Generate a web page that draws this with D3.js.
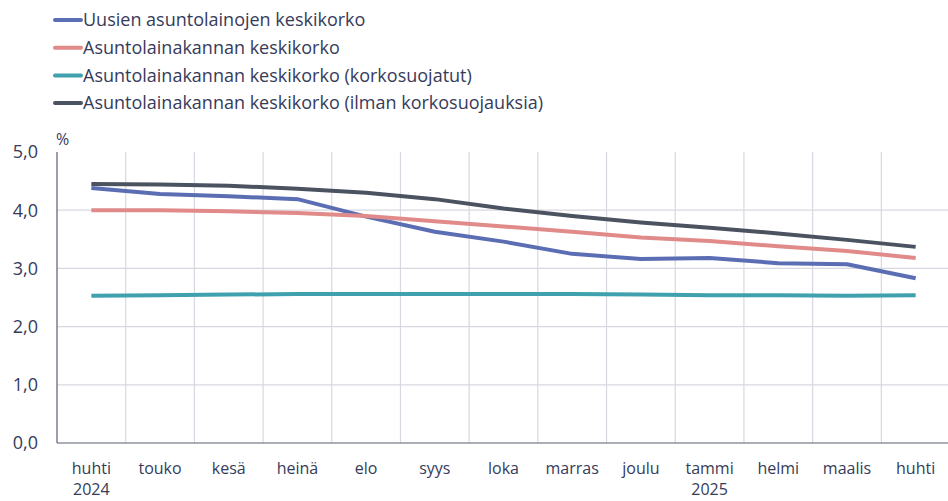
<!DOCTYPE html>
<html>
<head>
<meta charset="utf-8">
<script src="https://cdn.jsdelivr.net/npm/d3@7"></script>
<style>
  body { margin: 0; background: #fff; }
  svg { display: block; font-family: "Open Sans", Lato, sans-serif; }
</style>
</head>
<body>
<svg id="chart" width="948" height="501"></svg>
<script>
// categories (months)
var months = ["huhti", "touko", "kesä", "heinä", "elo", "syys", "loka", "marras", "joulu", "tammi", "helmi", "maalis", "huhti"];
var years = ["2024", "", "", "", "", "", "", "", "", "2025", "", "", ""];
var yTicks = [0, 1, 2, 3, 4, 5];

// series values, %
var uusien = [4.38, 4.28, 4.24, 4.19, 3.89, 3.63, 3.46, 3.25, 3.16, 3.18, 3.09, 3.07, 2.83];
var kanta = [4.00, 4.00, 3.98, 3.95, 3.90, 3.81, 3.72, 3.63, 3.53, 3.47, 3.38, 3.30, 3.18];
var suojatut = [2.53, 2.54, 2.55, 2.56, 2.56, 2.56, 2.56, 2.56, 2.55, 2.54, 2.54, 2.53, 2.54];
var ilman = [4.45, 4.44, 4.42, 4.37, 4.30, 4.19, 4.03, 3.90, 3.79, 3.70, 3.60, 3.49, 3.37];

var seriesNames = [
    "Uusien asuntolainojen keskikorko",
    "Asuntolainakannan keskikorko",
    "Asuntolainakannan keskikorko (korkosuojatut)",
    "Asuntolainakannan keskikorko (ilman korkosuojauksia)"
];
var seriesColors = ["#5b6db3", "#e08a89", "#3fa1ad", "#4b5260"];
var seriesValues = [uusien, kanta, suojatut, ilman];

var textColor = "#363b5a";
var svg = d3.select("#chart");

// plot area edges
var plotLeft = 57, plotRight = 950, plotTop = 152, plotBottom = 443;

var x = d3.scaleBand()
    .domain(d3.range(months.length))
    .range([plotLeft, plotRight]);

var y = d3.scaleLinear()
    .domain([0, 5])
    .range([plotBottom, plotTop]);

// horizontal grid lines
svg.append("g")
    .selectAll("line")
    .data(yTicks.filter(function (d) { return d > 0 && d < 5; }))
    .enter().append("line")
    .attr("x1", plotLeft).attr("x2", plotRight)
    .attr("y1", function (d) { return y(d); })
    .attr("y2", function (d) { return y(d); })
    .attr("stroke", "#d8d8e0")
    .attr("stroke-width", 1.2);

// vertical grid lines between categories
svg.append("g")
    .selectAll("line")
    .data(d3.range(1, months.length))
    .enter().append("line")
    .attr("x1", function (i) { return x(i); })
    .attr("x2", function (i) { return x(i); })
    .attr("y1", plotTop).attr("y2", plotBottom)
    .attr("stroke", "#d8d8e0")
    .attr("stroke-width", 1.2);

// axis lines
svg.append("line")
    .attr("x1", plotLeft).attr("x2", plotLeft)
    .attr("y1", plotTop).attr("y2", plotBottom)
    .attr("stroke", "#5a5f70").attr("stroke-width", 1.2);
svg.append("line")
    .attr("x1", plotLeft).attr("x2", plotRight)
    .attr("y1", plotBottom).attr("y2", plotBottom)
    .attr("stroke", "#5a5f70").attr("stroke-width", 1.2);

// y tick labels
var fmt = function (d) { return d3.format(".1f")(d).replace(".", ","); };
svg.append("g")
    .selectAll("text")
    .data(yTicks)
    .enter().append("text")
    .attr("x", 38)
    .attr("y", function (d) { return y(d); })
    .attr("dy", "0.35em")
    .attr("text-anchor", "end")
    .attr("fill", textColor)
    .style("font-size", "18px")
    .text(fmt);

svg.append("text")
    .attr("x", 56).attr("y", 145)
    .attr("fill", textColor)
    .style("font-size", "16px")
    .text("%");

// x tick labels, month on the first row, year below
var tickRows = [[months, 474], [years, 495]];
tickRows.forEach(function (row) {
    svg.append("g")
        .selectAll("text")
        .data(row[0])
        .enter().append("text")
        .attr("x", function (d, i) { return x(i) + x.bandwidth() / 2; })
        .attr("y", row[1])
        .attr("text-anchor", "middle")
        .attr("fill", textColor)
        .style("font-size", "16px")
        .text(function (d) { return d; });
});

// lines
var line = d3.line()
    .x(function (d, i) { return x(i) + x.bandwidth() / 2; })
    .y(function (d) { return y(d); });

svg.append("g")
    .selectAll("path")
    .data(seriesValues)
    .enter().append("path")
    .attr("d", line)
    .attr("fill", "none")
    .attr("stroke", function (d, i) { return seriesColors[i]; })
    .attr("stroke-width", 4)
    .attr("stroke-linejoin", "round");

// legend
var legend = svg.append("g")
    .selectAll("g")
    .data(seriesNames)
    .enter().append("g")
    .attr("transform", function (d, i) { return "translate(55," + (20 + i * 27.7) + ")"; });

legend.append("line")
    .attr("x1", 0).attr("x2", 26)
    .attr("stroke", function (d, i) { return seriesColors[i]; })
    .attr("stroke-width", 4)
    .attr("stroke-linecap", "round");

legend.append("text")
    .attr("x", 28)
    .attr("dy", "0.35em")
    .attr("fill", textColor)
    .style("font-size", "18px")
    .text(function (d) { return d; });
</script>
</body>
</html>
